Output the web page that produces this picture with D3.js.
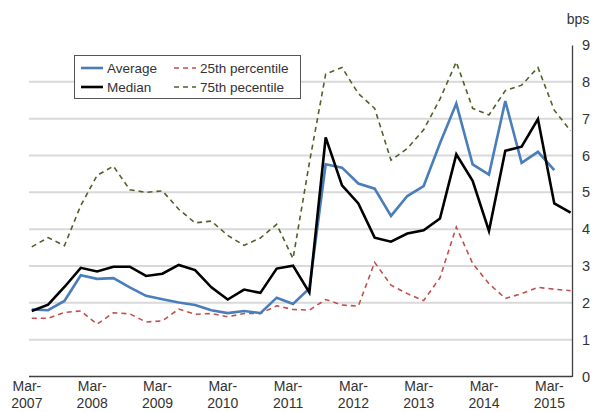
<!DOCTYPE html>
<html><head><meta charset="utf-8">
<script src="https://cdn.jsdelivr.net/npm/d3@7"></script>
<style>
body{margin:0;background:#fff;}
svg{display:block;font-family:"Liberation Sans",Arial,Helvetica,sans-serif;}
</style></head>
<body><svg id="c" width="593" height="412"></svg>
<script>
// Quarterly observations, Mar-2007 .. Jun-2015
const average = [1.82,1.80,2.05,2.75,2.65,2.67,2.42,2.19,2.10,2.01,
                 1.94,1.80,1.72,1.78,1.72,2.14,1.97,2.39,5.76,5.67,
                 5.24,5.10,4.36,4.90,5.17,6.33,7.41,5.76,5.48,7.48,
                 5.80,6.10,5.60,null];
const median  = [1.78,1.95,2.43,2.95,2.85,2.98,2.98,2.73,2.79,3.03,
                 2.89,2.42,2.09,2.36,2.27,2.93,3.01,2.28,6.49,5.19,
                 4.70,3.77,3.66,3.88,3.97,4.29,6.03,5.31,3.95,6.13,
                 6.24,6.99,4.70,4.45];
const p25     = [1.58,1.58,1.74,1.78,1.42,1.73,1.70,1.48,1.51,1.83,
                 1.69,1.71,1.62,1.71,1.71,1.92,1.82,1.80,2.09,1.94,
                 1.91,3.10,2.48,2.25,2.06,2.68,4.06,3.07,2.52,2.12,
                 2.25,2.42,2.37,2.33];
const p75     = [3.52,3.77,3.55,4.64,5.46,5.71,5.07,5.00,5.04,4.54,
                 4.17,4.22,3.83,3.56,3.76,4.13,3.20,5.80,8.21,8.39,
                 7.68,7.28,5.87,6.19,6.70,7.53,8.54,7.28,7.10,7.76,
                 7.91,8.39,7.23,6.67];
const xTickLabels = ["Mar-2007","Mar-2008","Mar-2009","Mar-2010","Mar-2011","Mar-2012","Mar-2013","Mar-2014","Mar-2015"];
const yTicks = [0,1,2,3,4,5,6,7,8,9];
const unitLabel = "bps";
const seriesNames = ["Average","Median","25th percentile","75th pecentile"];

const svg = d3.select("#c");
const L = 29, R = 572, T = 45, B = 376.5;
const x = d3.scaleLinear().domain([-0.17, 33]).range([L, 570.6]);
const y = d3.scaleLinear().domain([0, 9]).range([B, T]);

// gridlines
svg.append("g").selectAll("line").data(yTicks.filter(v => v > 0 && v < 9)).join("line")
  .attr("x1", L).attr("x2", R).attr("y1", d => y(d)).attr("y2", d => y(d))
  .attr("stroke", "#d9d9d9").attr("stroke-width", 2);

// y axis on the right
const yAxis = d3.axisRight(y).tickValues(yTicks).tickSize(0).tickPadding(10).tickFormat(d3.format("d"));
const gy = svg.append("g").attr("transform", `translate(${R},0)`).call(yAxis);
gy.select(".domain").attr("stroke", "#404040").attr("stroke-width", 1.3);
gy.selectAll("text").attr("font-size", 14.5).attr("fill", "#333").attr("font-family", "Liberation Sans, Arial, sans-serif");

svg.append("text").attr("x", 578).attr("y", 24).attr("text-anchor", "middle")
  .attr("font-size", 14).attr("fill", "#333").text(unitLabel);

// x axis
svg.append("line").attr("x1", L).attr("x2", R).attr("y1", B).attr("y2", B)
  .attr("stroke", "#404040").attr("stroke-width", 1.3);
const gx = svg.append("g");
xTickLabels.forEach((lab, j) => {
  const pos = x(4 * j - 0.3);
  const parts = lab.split("-");
  const t = gx.append("text").attr("x", pos).attr("y", 391).attr("text-anchor", "middle")
    .attr("font-size", 14).attr("fill", "#333");
  t.append("tspan").attr("x", pos).attr("dy", 0).text(parts[0] + "-");
  t.append("tspan").attr("x", pos).attr("dy", 16.5).text(parts[1]);
});

// lines
const defs = svg.append("defs");
defs.append("clipPath").attr("id", "clip").append("rect")
  .attr("x", L).attr("y", 0).attr("width", R - L).attr("height", B);
const line = d3.line().defined(d => d.v != null).x(d => x(d.i)).y(d => y(d.v));
const mk = arr => arr.map((v, i) => ({i, v}));
const series = [
  {data: p75, color: "#4f6228", w: 1.6, dash: "5,4"},
  {data: p25, color: "#c0504d", w: 1.6, dash: "5,4"},
  {data: average, color: "#4a7ebb", w: 2.6, dash: null},
  {data: median, color: "#000000", w: 2.6, dash: null}
];
const gl = svg.append("g").attr("clip-path", "url(#clip)");
series.forEach(s => {
  gl.append("path").attr("d", line(mk(s.data))).attr("fill", "none")
    .attr("stroke", s.color).attr("stroke-width", s.w)
    .attr("stroke-dasharray", s.dash).attr("stroke-linejoin", "miter");
});

// legend
const lg = svg.append("g");
lg.append("rect").attr("x", 74.5).attr("y", 55.5).attr("width", 226).attr("height", 43)
  .attr("fill", "#fff").attr("stroke", "#555").attr("stroke-width", 1);
const legendItems = [
  {name: seriesNames[0], color: "#4a7ebb", w: 2.6, dash: null, cx: 81, cy: 68},
  {name: seriesNames[1], color: "#000", w: 2.6, dash: null, cx: 81, cy: 87},
  {name: seriesNames[2], color: "#c0504d", w: 1.6, dash: "5,4", cx: 174, cy: 68},
  {name: seriesNames[3], color: "#4f6228", w: 1.6, dash: "5,4", cx: 174, cy: 87}
];
legendItems.forEach(it => {
  lg.append("line").attr("x1", it.cx).attr("x2", it.cx + 22).attr("y1", it.cy).attr("y2", it.cy)
    .attr("stroke", it.color).attr("stroke-width", it.w).attr("stroke-dasharray", it.dash);
  lg.append("text").attr("x", it.cx + 26).attr("y", it.cy + 4.7).attr("font-size", 13.5)
    .attr("fill", "#333").text(it.name);
});
</script></body></html>
